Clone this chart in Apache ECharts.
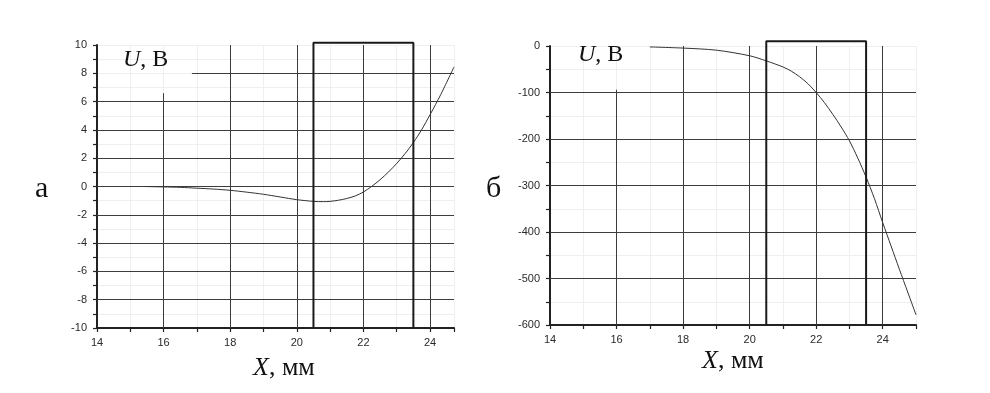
<!DOCTYPE html>
<html>
<head>
<meta charset="utf-8">
<script src="https://cdn.jsdelivr.net/npm/echarts@6/dist/echarts.min.js"></script>
<style>html,body{margin:0;padding:0;background:#fff}#c{width:990px;height:393px}</style>
</head>
<body>
<div id="c"></div>
<script>
// Panel а: potential U (V) vs X (mm)
const xA = [15.4, 16, 16.5, 17, 17.5, 18, 18.5, 19, 19.5, 20, 20.5, 20.8, 21, 21.25, 21.5, 21.75, 22, 22.25, 22.5, 22.75, 23, 23.25, 23.5, 23.75, 24, 24.32, 24.72];
const uA = [0, -0.03, -0.06, -0.12, -0.18, -0.27, -0.4, -0.55, -0.74, -0.93, -1.05, -1.07, -1.05, -0.97, -0.85, -0.67, -0.39, 0.01, 0.48, 1.02, 1.63, 2.32, 3.1, 4.02, 5.07, 6.49, 8.45];
// Panel б
const xB = [17, 18, 19, 20, 20.5, 21, 21.25, 21.5, 21.75, 22, 22.25, 22.5, 22.75, 23, 23.25, 23.5, 23.75, 24, 24.25, 24.5, 24.75, 25];
const uB = [-2, -4.5, -9, -21, -32, -45, -54, -66, -81, -100, -122, -147, -174, -204, -241, -282, -328, -380, -430, -480, -529, -578];
// highlighted region (mm)
const boxX = [20.5, 23.5];
// tick labels
const xTicks = [14, 16, 18, 20, 22, 24];
const yTicksA = [-10, -8, -6, -4, -2, 0, 2, 4, 6, 8, 10];
const yTicksB = [-600, -500, -400, -300, -200, -100, 0];
// texts
const yName = 'U';
const yUnit = ', В';
const xName = 'X';
const xUnit = ', мм';
const panelA = 'а';
const panelB = 'б';

const xMaxA = 24.72, yMinA = -10, yMaxA = 10, boxTopA = 10.16;
const xMaxB = 25, yMinB = -600, yMaxB = 0, boxTopB = 10;

function seg(p, q) { return [{ coord: p }, { coord: q }]; }

// major grid lines (partially hidden behind the label area)
const gridA = [];
yTicksA.filter(v => v > yMinA && v < yMaxA).forEach(v => {
  gridA.push(seg([v === 8 ? 16.85 : 14, v], [xMaxA, v]));
});
xTicks.filter(v => v > 14).forEach(v => {
  gridA.push(seg([v, yMinA], [v, v === 16 ? 6.6 : yMaxA]));
});
const gridB = [];
yTicksB.filter(v => v > yMinB && v < yMaxB).forEach(v => {
  gridB.push(seg([14, v], [xMaxB, v]));
});
xTicks.filter(v => v > 14).forEach(v => {
  gridB.push(seg([v, yMinB], [v, v === 16 ? -94 : yMaxB]));
});

const labelStyle = { fontFamily: 'Liberation Sans', fontSize: 11, color: '#2a2a2a' };
const axLine = { show: true, onZero: false, lineStyle: { color: '#222', width: 2 } };
const tick = { show: true, length: 4, lineStyle: { color: '#222', width: 1.2 } };
const faint = { show: true, lineStyle: { color: '#efefef', width: 1 } };

function xAx(idx, max) {
  return {
    type: 'value', gridIndex: idx, min: 14, max: max, interval: 1,
    axisLine: axLine, axisTick: tick, splitLine: faint,
    axisLabel: Object.assign({ margin: 9, formatter: v => (xTicks.includes(v) ? String(v) : '') }, labelStyle)
  };
}
function yAx(idx, min, max, interval, ticks) {
  return {
    type: 'value', gridIndex: idx, min: min, max: max, interval: interval,
    axisLine: axLine, axisTick: tick, splitLine: faint,
    axisLabel: Object.assign({ margin: 10, formatter: v => (ticks.includes(v) ? String(v) : '') }, labelStyle)
  };
}

const serif = 'Liberation Serif';
function richTitle(it, rest, left, top, size) {
  return {
    text: '{i|' + it + '}{r|' + rest + '}', left: left, top: top, padding: 0,
    textStyle: {
      fontWeight: 'normal',
      rich: {
        i: { fontFamily: serif, fontStyle: 'italic', fontWeight: 'normal', fontSize: size, color: '#111' },
        r: { fontFamily: serif, fontWeight: 'normal', fontSize: size, color: '#111' }
      }
    }
  };
}
function plainTitle(t, left, top, size) {
  return { text: t, left: left, top: top, padding: 0,
    textStyle: { fontFamily: serif, fontSize: size, fontWeight: 'normal', color: '#111' } };
}

const majorStyle = { color: '#3c3c3c', width: 1, type: 'solid' };

const option = {
  animation: false,
  backgroundColor: '#fff',
  title: [
    richTitle(yName, yUnit, 123, 48, 24),
    richTitle(yName, yUnit, 578, 43, 24),
    richTitle(xName, xUnit, 253, 355, 26),
    richTitle(xName, xUnit, 702, 348, 26),
    plainTitle(panelA, 35, 174, 30),
    plainTitle(panelB, 486, 174, 30)
  ],
  grid: [
    { left: 97, top: 45, width: 357, height: 283 },
    { left: 550, top: 46, width: 366, height: 279 }
  ],
  xAxis: [xAx(0, xMaxA), xAx(1, xMaxB)],
  yAxis: [yAx(0, yMinA, yMaxA, 1, yTicksA), yAx(1, yMinB, yMaxB, 50, yTicksB)],
  series: [
    {
      type: 'line', xAxisIndex: 0, yAxisIndex: 0, data: [], silent: true,
      markLine: { silent: true, symbol: 'none', label: { show: false },
        lineStyle: majorStyle, data: gridA }
    },
    {
      type: 'line', xAxisIndex: 1, yAxisIndex: 1, data: [], silent: true,
      markLine: { silent: true, symbol: 'none', label: { show: false },
        lineStyle: majorStyle, data: gridB }
    },
    {
      type: 'line', xAxisIndex: 0, yAxisIndex: 0, showSymbol: false, smooth: 0.3,
      lineStyle: { color: '#333', width: 1 }, data: xA.map((x, i) => [x, uA[i]]), z: 5
    },
    {
      type: 'line', xAxisIndex: 1, yAxisIndex: 1, showSymbol: false, smooth: 0.3,
      lineStyle: { color: '#333', width: 1 }, data: xB.map((x, i) => [x, uB[i]]), z: 5
    },
    {
      type: 'line', xAxisIndex: 0, yAxisIndex: 0, showSymbol: false, clip: false,
      lineStyle: { color: '#1a1a1a', width: 2 }, z: 6,
      data: [[boxX[0], yMinA], [boxX[0], boxTopA], [boxX[1], boxTopA], [boxX[1], yMinA]]
    },
    {
      type: 'line', xAxisIndex: 1, yAxisIndex: 1, showSymbol: false, clip: false,
      lineStyle: { color: '#1a1a1a', width: 2 }, z: 6,
      data: [[boxX[0], yMinB], [boxX[0], boxTopB], [boxX[1], boxTopB], [boxX[1], yMinB]]
    }
  ]
};
const chart = echarts.init(document.getElementById('c'), null, { renderer: 'canvas' });
chart.setOption(option);
</script>
</body>
</html>
